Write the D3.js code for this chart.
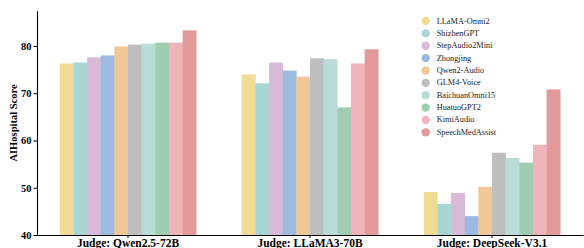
<!DOCTYPE html>
<html>
<head>
<meta charset="utf-8">
<script src="https://cdn.jsdelivr.net/npm/d3@7"></script>
<style>
  body { margin: 0; background: #fff; }
  svg { display: block; }
  text { font-family: "Liberation Serif", "DejaVu Serif", serif; }
</style>
</head>
<body>
<div id="chart"></div>
<script>
// Judges (x groups) and models (series)
const judges = ["Judge: Qwen2.5-72B", "Judge: LLaMA3-70B", "Judge: DeepSeek-V3.1"];
const models = ["LLaMA-Omni2", "ShizhenGPT", "StepAudio2Mini", "Zhongjing", "Qwen2-Audio",
                "GLM4-Voice", "BaichuanOmni15", "HuatuoGPT2", "KimiAudio", "SpeechMedAssist"];
const colors = ["#f0dc94", "#a8d5d1", "#d8b9d8", "#9dbae0", "#f0c795",
                "#bebebe", "#b9ddd6", "#a0cdb1", "#f0b5bb", "#e29a9a"];

// Scores per model, one value per judge
const llamaOmni2 = [76.3, 74.0, 49.1];
const shizhenGPT = [76.5, 72.1, 46.6];
const stepAudio2Mini = [77.6, 76.5, 48.9];
const zhongjing = [78.0, 74.8, 44.0];
const qwen2Audio = [79.9, 73.5, 50.2];
const glm4Voice = [80.3, 77.4, 57.4];
const baichuanOmni15 = [80.5, 77.2, 56.3];
const huatuoGPT2 = [80.7, 67.0, 55.3];
const kimiAudio = [80.7, 76.3, 59.1];
const speechMedAssist = [83.3, 79.3, 70.8];

const seriesValues = [llamaOmni2, shizhenGPT, stepAudio2Mini, zhongjing, qwen2Audio,
                      glm4Voice, baichuanOmni15, huatuoGPT2, kimiAudio, speechMedAssist];
const yTicks = [40, 50, 60, 70, 80];

const W = 584, H = 248;
const margin = {top: 10.7, right: 1, bottom: 13, left: 37};
const width = W - margin.left - margin.right;
const height = H - margin.top - margin.bottom;

const svg = d3.select("#chart").append("svg")
    .attr("width", W)
    .attr("height", H)
    .append("g")
    .attr("transform", `translate(${margin.left},${margin.top})`);

const x0 = d3.scaleBand()
    .domain(judges)
    .range([0, width])
    .paddingInner(0.25)
    .paddingOuter(0.125);

const x1 = d3.scaleBand()
    .domain(models)
    .range([0, x0.bandwidth()])
    .padding(0);

const y = d3.scaleLinear()
    .domain([40, 83.3 * 1.05])
    .range([height, 0]);

// Bars
models.forEach((m, i) => {
    svg.selectAll(`.bar-${i}`)
        .data(seriesValues[i])
        .enter().append("rect")
        .attr("class", `bar-${i}`)
        .attr("x", (d, j) => x0(judges[j]) + x1(m))
        .attr("width", x1.bandwidth() + 0.3)
        .attr("y", d => y(d))
        .attr("height", d => height - y(d))
        .attr("fill", colors[i]);
});

// Y axis
const yAxis = svg.append("g")
    .call(d3.axisLeft(y).tickValues(yTicks).tickSize(3.5).tickPadding(2).tickSizeOuter(0));
yAxis.select(".domain").attr("stroke", "#000").attr("stroke-width", 1.1);
yAxis.selectAll("line").attr("stroke", "#000");
yAxis.selectAll("text")
    .style("font-family", "Liberation Serif, serif")
    .style("font-size", "10.5px")
    .style("font-weight", "bold")
    .attr("fill", "#000");

// X axis
const xAxis = svg.append("g")
    .attr("transform", `translate(0,${height})`)
    .call(d3.axisBottom(x0).tickSize(3).tickPadding(1).tickSizeOuter(0));
xAxis.select(".domain").attr("stroke", "#000").attr("stroke-width", 1.1);
xAxis.selectAll("line").attr("stroke", "#000");
xAxis.selectAll("text")
    .style("font-family", "Liberation Serif, serif")
    .style("font-size", "11.5px")
    .style("font-weight", "bold")
    .attr("fill", "#000");

// Y label
svg.append("text")
    .attr("transform", `translate(${15 - margin.left},${123 - margin.top}) rotate(-90)`)
    .attr("text-anchor", "middle")
    .attr("dominant-baseline", "middle")
    .style("font-size", "10.5px")
    .style("font-weight", "bold")
    .text("AIHospital Score");

// Legend
const legend = svg.append("g")
    .attr("transform", `translate(${425.7 - margin.left},${21 - margin.top})`);
models.forEach((m, i) => {
    const row = legend.append("g").attr("transform", `translate(0,${i * 12.37})`);
    row.append("circle")
        .attr("r", 4.2)
        .attr("fill", colors[i]);
    row.append("text")
        .attr("x", 11)
        .attr("dominant-baseline", "central")
        .style("font-size", "8.3px")
        .attr("fill", "#222")
        .text(m);
});
</script>
</body>
</html>
